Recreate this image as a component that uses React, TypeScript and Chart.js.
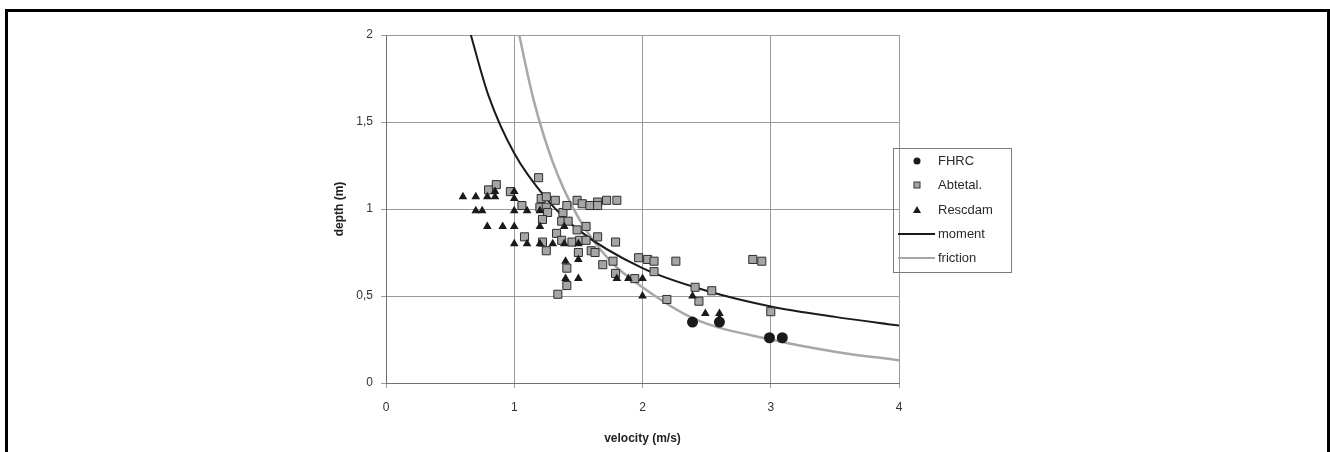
import React, { useEffect, useRef } from "react";
import { Chart, registerables } from "chart.js";

Chart.register(...registerables);

// ---- data ----
const fhrcVelocity = [2.39, 2.6, 2.99, 3.09];
const fhrcDepth = [0.35, 0.35, 0.26, 0.26];

const abtetalVelocity = [
  1.19, 0.8, 0.86, 0.97, 1.06, 1.21, 1.25, 1.2, 1.25, 1.26, 1.32, 1.38, 1.41, 1.49, 1.53, 1.59, 1.65, 1.65, 1.72,
  1.8, 1.22, 1.37, 1.42, 1.49, 1.56, 1.33, 1.37, 1.08, 1.22, 1.45, 1.51, 1.56, 1.65, 1.25, 1.5, 1.6, 1.63, 1.79,
  1.69, 1.77, 1.79, 1.41, 1.41, 1.34, 1.97, 2.04, 2.09, 2.09, 2.26, 1.94, 2.19, 2.41, 2.44, 2.54, 2.86, 2.93, 3.0,
];
const abtetalDepth = [
  1.18, 1.11, 1.14, 1.1, 1.02, 1.06, 1.07, 1.01, 1.01, 0.98, 1.05, 0.98, 1.02, 1.05, 1.03, 1.02, 1.04, 1.02, 1.05,
  1.05, 0.94, 0.93, 0.93, 0.88, 0.9, 0.86, 0.82, 0.84, 0.81, 0.81, 0.82, 0.82, 0.84, 0.76, 0.75, 0.76, 0.75, 0.81,
  0.68, 0.7, 0.63, 0.66, 0.56, 0.51, 0.72, 0.71, 0.7, 0.64, 0.7, 0.6, 0.48, 0.55, 0.47, 0.53, 0.71, 0.7, 0.41,
];

const rescdamVelocity = [
  0.6, 0.7, 0.79, 0.85, 0.85, 0.7, 0.75, 1.0, 1.0, 1.0, 1.1, 1.2, 0.79, 0.91, 1.0, 1.2, 1.39, 1.0, 1.1, 1.2, 1.3,
  1.39, 1.5, 1.4, 1.5, 1.4, 1.5, 1.8, 1.89, 2.0, 2.0, 2.39, 2.49, 2.6, 2.6,
];
const rescdamDepth = [
  1.07, 1.07, 1.07, 1.07, 1.1, 0.99, 0.99, 1.1, 1.06, 0.99, 0.99, 0.99, 0.9, 0.9, 0.9, 0.9, 0.9, 0.8, 0.8, 0.8, 0.8,
  0.8, 0.8, 0.7, 0.71, 0.6, 0.6, 0.6, 0.6, 0.6, 0.5, 0.5, 0.4, 0.4, 0.37,
];

const momentVelocity = [0.65, 0.8, 1.0, 1.25, 1.5, 2.0, 2.5, 3.0, 3.5, 4.0];
const momentDepth = [2.03, 1.65, 1.32, 1.06, 0.88, 0.66, 0.53, 0.44, 0.38, 0.33];

const frictionVelocity = [1.03, 1.15, 1.3, 1.5, 1.75, 2.0, 2.4, 3.0, 3.5, 4.0];
const frictionDepth = [2.03, 1.63, 1.27, 0.95, 0.7, 0.55, 0.37, 0.25, 0.18, 0.13];

const xTicks = [0, 1, 2, 3, 4];
const yTicks = [0, 0.5, 1, 1.5, 2];
const seriesLabels = ["FHRC", "Abtetal.", "Rescdam", "moment", "friction"];
const xTitle = "velocity (m/s)";
const yTitle = "depth (m)";

const pts = (xs: number[], ys: number[]) => xs.map((x, i) => ({ x, y: ys[i] }));

const FONT = "'Liberation Sans', Arial, sans-serif";

const legendPlugin = {
  id: "customLegend",
  afterDraw(chart: any) {
    const ctx = chart.ctx as CanvasRenderingContext2D;
    const left = 893;
    const top = 148;
    const right = 1011;
    const bottom = 272;
    ctx.save();
    ctx.strokeStyle = "#7a7a7a";
    ctx.lineWidth = 1;
    ctx.strokeRect(left + 0.5, top + 0.5, right - left, bottom - top);
    const rowY = [161, 185, 210, 234, 258];
    const markX = 917;
    const textX = 938;
    ctx.font = `13px ${FONT}`;
    ctx.textBaseline = "middle";
    ctx.textAlign = "left";
    rowY.forEach((y, i) => {
      if (i === 0) {
        ctx.fillStyle = "#1a1a1a";
        ctx.beginPath();
        ctx.arc(markX, y, 3.5, 0, Math.PI * 2);
        ctx.fill();
      } else if (i === 1) {
        ctx.fillStyle = "#a5a5a5";
        ctx.strokeStyle = "#333";
        ctx.lineWidth = 1;
        ctx.fillRect(markX - 3, y - 3, 6, 6);
        ctx.strokeRect(markX - 3, y - 3, 6, 6);
      } else if (i === 2) {
        ctx.fillStyle = "#1a1a1a";
        ctx.beginPath();
        ctx.moveTo(markX, y - 4);
        ctx.lineTo(markX + 4, y + 3);
        ctx.lineTo(markX - 4, y + 3);
        ctx.closePath();
        ctx.fill();
      } else {
        ctx.strokeStyle = i === 3 ? "#1a1a1a" : "#a8a8a8";
        ctx.lineWidth = 2;
        ctx.beginPath();
        ctx.moveTo(898, y);
        ctx.lineTo(935, y);
        ctx.stroke();
      }
      ctx.fillStyle = "#2a2a2a";
      ctx.fillText(seriesLabels[i], textX, y);
    });
    ctx.restore();
  },
};

export default function App() {
  const ref = useRef<HTMLCanvasElement | null>(null);
  useEffect(() => {
    document.body.style.margin = "0";
    const canvas = ref.current;
    if (!canvas) return;
    const chart = new Chart(canvas, {
      type: "scatter",
      data: {
        datasets: [
          {
            label: seriesLabels[0],
            data: pts(fhrcVelocity, fhrcDepth),
            pointStyle: "circle",
            pointRadius: 5.5,
            backgroundColor: "#1a1a1a",
            borderColor: "#1a1a1a",
            borderWidth: 0,
            order: 0,
          },
          {
            label: seriesLabels[1],
            data: pts(abtetalVelocity, abtetalDepth),
            pointStyle: "rect",
            pointRadius: 5.7,
            backgroundColor: "#a5a5a5",
            borderColor: "#2e2e2e",
            borderWidth: 1,
            order: 2,
          },
          {
            label: seriesLabels[2],
            data: pts(rescdamVelocity, rescdamDepth),
            pointStyle: "triangle",
            pointRadius: 5,
            backgroundColor: "#1a1a1a",
            borderColor: "#1a1a1a",
            borderWidth: 0,
            order: 1,
          },
          {
            label: seriesLabels[3],
            data: pts(momentVelocity, momentDepth),
            showLine: true,
            pointRadius: 0,
            borderColor: "#1a1a1a",
            borderWidth: 2,
            cubicInterpolationMode: "monotone",
            order: 10,
          } as any,
          {
            label: seriesLabels[4],
            data: pts(frictionVelocity, frictionDepth),
            showLine: true,
            pointRadius: 0,
            borderColor: "#a8a8a8",
            borderWidth: 2.5,
            cubicInterpolationMode: "monotone",
            order: 11,
          } as any,
        ],
      },
      options: {
        animation: false,
        responsive: true,
        maintainAspectRatio: false,
        layout: { padding: { left: 329, right: 431, top: 35, bottom: 5 } },
        plugins: { legend: { display: false }, tooltip: { enabled: false } },
        scales: {
          x: {
            type: "linear",
            min: 0,
            max: 4,
            afterFit: (s: any) => {
              s.height = 64;
            },
            afterBuildTicks: (s: any) => {
              s.ticks = xTicks.map((v) => ({ value: v }));
            },
            ticks: {
              color: "#333",
              font: { family: FONT, size: 12 },
              padding: 12,
              callback: (v: any) => String(v),
            },
            grid: { color: "#9a9a9a", lineWidth: 1, tickLength: 5, drawTicks: true },
            border: { display: true, color: "#707070", width: 1 },
            title: {
              display: true,
              text: xTitle,
              color: "#222",
              font: { family: FONT, size: 12, weight: "bold" },
              padding: { top: 0, bottom: 1 },
            },
          },
          y: {
            type: "linear",
            min: 0,
            max: 2,
            afterFit: (s: any) => {
              s.width = 57;
            },
            afterBuildTicks: (s: any) => {
              s.ticks = yTicks.map((v) => ({ value: v }));
            },
            ticks: {
              color: "#333",
              font: { family: FONT, size: 12 },
              padding: 8,
              callback: (v: any) => String(v).replace(".", ","),
            },
            grid: { color: "#9a9a9a", lineWidth: 1, tickLength: 5, drawTicks: true },
            border: { display: true, color: "#707070", width: 1 },
            title: {
              display: true,
              text: yTitle,
              color: "#222",
              font: { family: FONT, size: 12, weight: "bold" },
              padding: { top: 3, bottom: 0 },
            },
          },
        },
      },
      plugins: [legendPlugin],
    });
    return () => chart.destroy();
  }, []);

  return (
    <div style={{ position: "relative", width: 1330, height: 452, background: "#fff", overflow: "hidden" }}>
      <canvas ref={ref} style={{ position: "absolute", left: 0, top: 0, width: 1330, height: 452 }} />
      <div
        style={{
          position: "absolute",
          left: 5,
          top: 9,
          width: 1319,
          height: 460,
          border: "3px solid #000",
          borderBottom: "none",
          pointerEvents: "none",
        }}
      />
    </div>
  );
}
